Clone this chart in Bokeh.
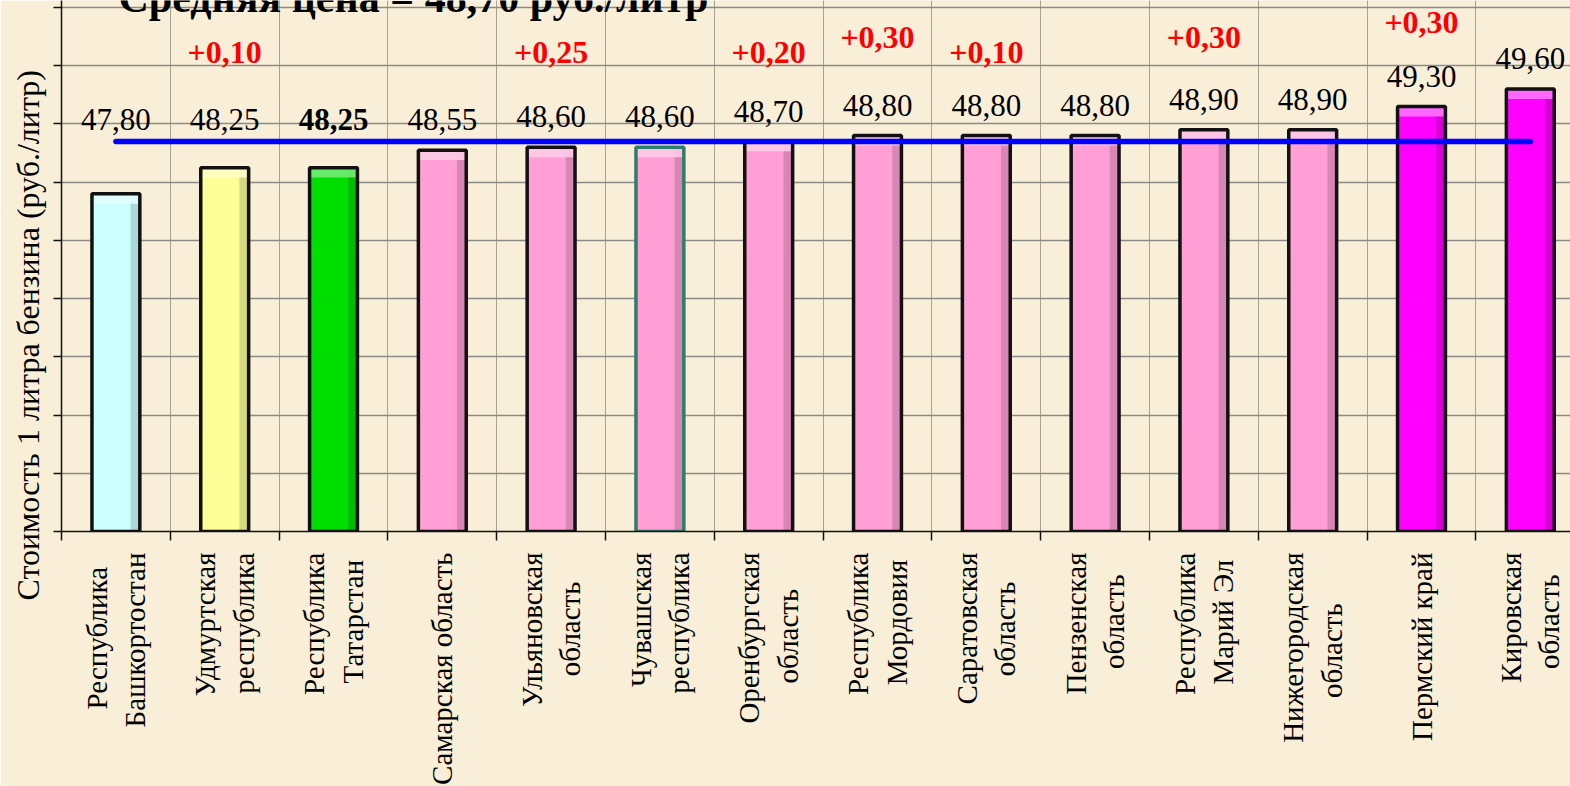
import math
from bokeh.plotting import figure
from bokeh.models import Range1d, FixedTicker, ColumnDataSource, Label, Title
from bokeh.core.properties import value, field
from bokeh.embed import file_html
from bokeh.resources import INLINE

# ---------------- data ----------------
regions = [
    "Республика\nБашкортостан",
    "Удмуртская\nреспублика",
    "Республика\nТатарстан",
    "Самарская область",
    "Ульяновская\nобласть",
    "Чувашская\nреспублика",
    "Оренбургская\nобласть",
    "Республика\nМордовия",
    "Саратовская\nобласть",
    "Пензенская\nобласть",
    "Республика\nМарий Эл",
    "Нижегородская\nобласть",
    "Пермский край",
    "Кировская\nобласть",
]
prices = [47.80, 48.25, 48.25, 48.55, 48.60, 48.60, 48.70, 48.80, 48.80, 48.80, 48.90, 48.90, 49.30, 49.60]
price_labels = ["47,80", "48,25", "48,25", "48,55", "48,60", "48,60", "48,70",
                "48,80", "48,80", "48,80", "48,90", "48,90", "49,30", "49,60"]
changes = ["", "+0,10", "", "", "+0,25", "", "+0,20", "+0,30", "+0,10", "", "+0,30", "", "+0,30", ""]
average_price = 48.70
title_text = "Средняя цена = 48,70 руб./литр"
y_title = "Стоимость 1 литра бензина  (руб./литр)"
y_ticks = list(range(42, 52))

# ---------------- styles ----------------
CYAN, YELLOW, GREEN, PINK, MAGENTA = "#CCFFFF", "#FFFF99", "#00DD00", "#FF9FD6", "#FF00FF"
bar_colors = [CYAN, YELLOW, GREEN] + [PINK] * 9 + [MAGENTA] * 2
outline_colors = ["#111111"] * 14
outline_colors[5] = "#2E7D6B"
label_styles = ["normal"] * 14
label_styles[2] = "bold"
change_rows = [0, 0, 0, 0, 0, 0, 0, 1, 0, 0, 1, 0, 2, 0]

FONT = "Liberation Serif"
BG = "#F9EFD8"
CAT_FONT_PX = 29

LEFT, FRAME_W, FRAME_H = 61, 1509, 531
PX_X = 108.8                       # pixels per category
Y0, PX_Y = 42.0, 58.22             # axis minimum and pixels per rouble
x_end = FRAME_W / PX_X
y_top = Y0 + FRAME_H / PX_Y


def ydata(py):
    return Y0 + (FRAME_H - py) / PX_Y


def xdata(px):
    return (px - LEFT) / PX_X


def mix(hexcol, other, t):
    a = [int(hexcol[i:i + 2], 16) for i in (1, 3, 5)]
    b = [int(other[i:i + 2], 16) for i in (1, 3, 5)]
    c = [round(a[k] + (b[k] - a[k]) * t) for k in range(3)]
    return "#%02x%02x%02x" % tuple(c)


# approximate Times/Liberation Serif advance widths (em) for centring two-line labels
_W = dict(zip("абвгдежзийклмнопрстуфхцчшщъыьэюя",
              [.444, .5, .472, .41, .5, .444, .691, .395, .535, .535, .486, .499, .633, .535, .5, .535,
               .5, .444, .437, .5, .648, .5, .535, .503, .77, .77, .517, .672, .456, .429, .747, .485]))
_W.update({"Б": .556, "К": .722, "М": .889, "Н": .722, "О": .722, "П": .722, "Р": .556, "С": .667,
           "Т": .611, "У": .7, "Ч": .667, "Э": .661, " ": .25})


def text_w(s):
    return sum(_W.get(ch, .5) for ch in s)


def centred(label):
    lines = label.split("\n")
    if len(lines) == 1:
        return label
    widest = max(text_w(s) for s in lines)
    out = []
    for s in lines:
        n = int(round((widest - text_w(s)) / 2 / 0.25))
        out.append(s + "\u00a0" * n)
    return "\n".join(out)


p = figure(frame_width=FRAME_W, frame_height=FRAME_H,
           x_range=Range1d(0, x_end), y_range=Range1d(Y0, y_top),
           output_backend="svg", toolbar_location=None,
           min_border_left=LEFT, min_border_right=0, min_border_top=0, min_border_bottom=10)
p.background_fill_color = BG
p.border_fill_color = BG
p.outline_line_color = None

xs = [i + 0.5 for i in range(len(prices))]
bounds_x = list(range(len(prices) + 1))

# x axis: labels at the bar centres, tick marks at category boundaries
p.xaxis.ticker = FixedTicker(ticks=xs, minor_ticks=bounds_x)
p.xaxis.major_label_overrides = {x: centred(name) for x, name in zip(xs, regions)}
p.xaxis.major_label_orientation = math.pi / 2
p.xaxis.major_label_text_font = FONT
p.xaxis.major_label_text_font_size = "%dpx" % CAT_FONT_PX
p.xaxis.major_label_text_color = "#000000"
p.xaxis.major_label_standoff = 12
p.xaxis.major_tick_line_color = None
p.xaxis.major_tick_out = 0
p.xaxis.major_tick_in = 0
p.xaxis.minor_tick_line_color = "#111111"
p.xaxis.minor_tick_line_width = 1.5
p.xaxis.minor_tick_out = 9
p.xaxis.minor_tick_in = 0

# y axis: ticks only
p.yaxis.ticker = FixedTicker(ticks=y_ticks)
p.yaxis.major_label_overrides = {t: " " for t in y_ticks}
p.yaxis.major_label_text_font_size = "1px"
p.yaxis.major_label_standoff = 0
p.yaxis.major_tick_line_color = "#111111"
p.yaxis.major_tick_line_width = 1.5
p.yaxis.major_tick_out = 8
p.yaxis.major_tick_in = 0
p.yaxis.minor_tick_line_color = None
for ax in (p.xaxis, p.yaxis):
    ax.axis_line_color = "#111111"
    ax.axis_line_width = 1.5

p.ygrid.grid_line_color = "#8a8a86"
p.ygrid.grid_line_width = 1.6
p.xgrid.ticker = FixedTicker(ticks=bounds_x)
p.xgrid.grid_line_color = "#555555"
p.xgrid.grid_line_width = 1
p.xgrid.grid_line_dash = "1 1"

# y-axis title (starts below the frame bottom, as in the original)
p.add_layout(Title(text=y_title, align="left", offset=-69, text_font=FONT,
                   text_font_size="32px", text_font_style="normal",
                   text_color="#000000", standoff=10), "left")

# bars
BW = 0.44
src = ColumnDataSource(dict(
    x=xs, top=prices, color=bar_colors, outline=outline_colors,
    light=[mix(c, "#FFFFFF", 0.45) for c in bar_colors],
    dark=[mix(c, "#000000", 0.28) for c in bar_colors],
    right_l=[x + BW / 2 - 0.085 for x in xs], right_r=[x + BW / 2 for x in xs],
    left_l=[x - BW / 2 for x in xs], left_r=[x + BW / 2 for x in xs],
    band_b=[t - 0.17 for t in prices],
    base=[Y0] * len(prices),
    label=price_labels, style=label_styles,
    label_y=[max(v, 48.55) + 0.52 for v in prices],
))
p.vbar(x="x", width=BW, bottom="base", top="top", source=src, fill_color="color", line_color=None)
p.quad(left="right_l", right="right_r", bottom="base", top="top", source=src,
       fill_color="dark", fill_alpha=0.55, line_color=None)
p.quad(left="left_l", right="left_r", bottom="band_b", top="top", source=src,
       fill_color="light", fill_alpha=0.9, line_color=None)
p.vbar(x="x", width=BW, bottom="base", top="top", source=src, fill_color=None,
       line_color="outline", line_width=3.5)

# average line
p.line(x=[xs[0], xs[-1]], y=[average_price, average_price], line_color="#0000FF",
       line_width=5.5, line_cap="round")

# value labels
p.text(x="x", y="label_y", text="label", source=src, text_font=value(FONT),
       text_font_size="31px", text_font_style=field("style"), text_color="#000000",
       text_align="center", text_baseline="middle")

# change labels
chg_idx = [i for i, c in enumerate(changes) if c]
chg_src = ColumnDataSource(dict(
    x=[xs[i] for i in chg_idx],
    y=[ydata(52) + change_rows[i] * 15 / PX_Y for i in chg_idx],
    text=[changes[i] for i in chg_idx],
))
p.text(x="x", y="y", text="text", source=chg_src, text_font=value(FONT),
       text_font_size="32px", text_font_style="bold", text_color="#FF0000",
       text_align="center", text_baseline="middle")

# chart title (cut by the top edge as in the original)
p.add_layout(Label(x=xdata(118), y=ydata(-3), text=title_text,
                   text_align="left", text_baseline="alphabetic",
                   text_font=FONT, text_font_size="42px", text_font_style="bold",
                   text_color="#000000"))

html = file_html(p, INLINE)
html = html.replace("</head>", "<style>html,body{margin:0;padding:0;overflow:hidden;}</style></head>", 1)
open("out.html", "w").write(html)
